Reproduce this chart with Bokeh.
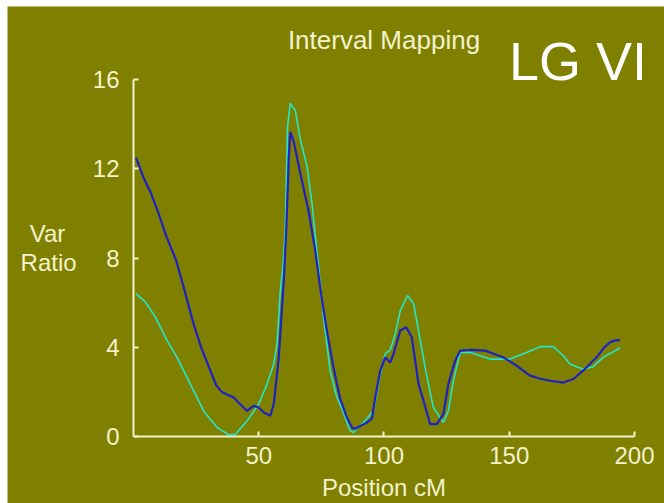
from bokeh.plotting import figure
from bokeh.models import Range1d, FixedTicker, Label
from bokeh.embed import file_html
from bokeh.resources import INLINE

# Positions along the linkage group (cM) and variance ratio for two traits
pos_dark = [1, 4, 7, 10, 13, 17, 20, 24, 27, 30.7, 33, 35.4, 40, 43, 45.3, 48, 50, 52,
            54.6, 56, 58, 60, 61, 62, 62.6, 64, 66.6, 69.9, 72.6, 75, 77.2, 80, 82.5,
            85, 87.2, 88.5, 91, 93.2, 95.2, 96.5, 98.5, 100.5, 102.5, 103.8, 106.5,
            108.9, 111.1, 113.8, 115.8, 118.4, 121.1, 123.7, 125.7, 128.4, 130.4, 135,
            140.4, 144, 147.6, 153, 158.3, 162, 166.3, 171.6, 175.6, 179.5, 184.9, 188,
            190.2, 192, 194.2]
ratio_dark = [12.5, 11.6, 10.9, 10.0, 9.0, 7.9, 6.7, 5.05, 4.0, 2.95, 2.3, 1.98, 1.75,
              1.4, 1.15, 1.38, 1.3, 1.08, 0.93, 1.45, 3.55, 7.0, 9.3, 12.5, 13.65, 13.2,
              11.8, 10.1, 8.3, 6.3, 4.75, 3.0, 1.7, 0.9, 0.4, 0.35, 0.5, 0.63, 0.8, 1.75,
              2.95, 3.55, 3.32, 3.7, 4.75, 4.9, 4.45, 2.35, 1.6, 0.56, 0.56, 1.0, 2.35,
              3.4, 3.85, 3.88, 3.85, 3.7, 3.55, 3.17, 2.73, 2.6, 2.5, 2.42, 2.58, 2.95,
              3.55, 4.0, 4.22, 4.3, 4.33]

pos_cyan = [1, 4.8, 8.8, 13.4, 17.4, 22.7, 28, 33.4, 38, 40.7, 45.3, 50, 53.3, 56, 57.3,
            58.6, 59.7, 60.6, 61.5, 62.6, 64.6, 66.6, 69.3, 71.3, 73, 73.9, 76, 78.5,
            81.2, 82.5, 86.5, 87.8, 91.8, 95.8, 98.5, 100.5, 102.5, 104.5, 106.5, 109.4,
            111.8, 113.8, 116.4, 119.7, 123.7, 125.7, 127.7, 130.4, 134.4, 142.3, 150.3,
            157, 162.3, 167.6, 171.6, 174.2, 179.5, 183.5, 187.5, 194.2]
ratio_cyan = [6.4, 6.02, 5.34, 4.3, 3.55, 2.35, 1.15, 0.4, 0.08, 0.1, 0.7, 1.45, 2.35,
              3.25, 4.15, 6.54, 7.6, 9.3, 13.9, 14.93, 14.6, 13.3, 12.1, 10.4, 8.5, 7.6,
              5.2, 2.95, 1.75, 1.45, 0.26, 0.18, 0.63, 1.15, 2.8, 3.7, 3.88, 4.6, 5.64,
              6.32, 5.95, 4.75, 3.1, 1.3, 0.63, 1.15, 2.5, 3.77, 3.77, 3.47, 3.47, 3.77,
              4.03, 4.03, 3.62, 3.25, 3.02, 3.13, 3.55, 3.97]

x_ticks = [50, 100, 150, 200]
y_ticks = [0, 4, 8, 12, 16]

OLIVE = "#808000"
CREAM = "#F2F2CC"
FONT = "Liberation Sans"

# The frame fills the whole canvas; the axes sit at x=0 / y=0 inside it so that
# every caption can be placed freely around the curves.
p = figure(width=657, height=497, x_range=Range1d(-50.3, 211.98),
           y_range=Range1d(-3.0, 19.27), output_backend="svg", toolbar_location=None,
           min_border=0)
p.margin = (6, 0, 0, 7)
p.background_fill_color = OLIVE
p.border_fill_color = OLIVE
p.outline_line_color = None
p.xgrid.visible = False
p.ygrid.visible = False

p.xaxis.ticker = FixedTicker(ticks=x_ticks)
p.yaxis.ticker = FixedTicker(ticks=y_ticks)
p.xaxis.fixed_location = 0
p.yaxis.fixed_location = 0
p.xaxis.bounds = (0, 200)
p.yaxis.bounds = (0, 16)
for ax in (p.xaxis, p.yaxis):
    ax.axis_line_color = CREAM
    ax.axis_line_width = 2
    ax.major_tick_line_color = CREAM
    ax.major_tick_line_width = 2
    ax.major_tick_in = 5
    ax.major_tick_out = 0
    ax.minor_tick_line_color = None
    ax.major_label_text_color = CREAM
    ax.major_label_text_font = FONT
    ax.major_label_text_font_size = "24px"
p.xaxis.major_label_standoff = 10
p.yaxis.major_label_standoff = 14

p.line(pos_cyan, ratio_cyan, line_color="#22E6CC", line_width=1.6)
p.line(pos_dark, ratio_dark, line_color="#1E22C0", line_width=2.2)

def add_text(txt, x, y, size, color=CREAM, align="center", baseline="middle"):
    p.add_layout(Label(x=x, y=y, text=txt, text_color=color, text_font=FONT,
                       text_font_size=size, text_align=align, text_baseline=baseline))

add_text("Var", -34.3, 9.1, "24px")
add_text("Ratio", -33.9, 7.79, "24px")
add_text("Position cM", 100, -2.27, "24px")
add_text("Interval Mapping", 100, 17.75, "26px", baseline="alphabetic")
add_text("LG VI", 149.9, 16.83, "54px", color="white", align="left", baseline="alphabetic")

open("out.html", "w").write(file_html(p, INLINE))
